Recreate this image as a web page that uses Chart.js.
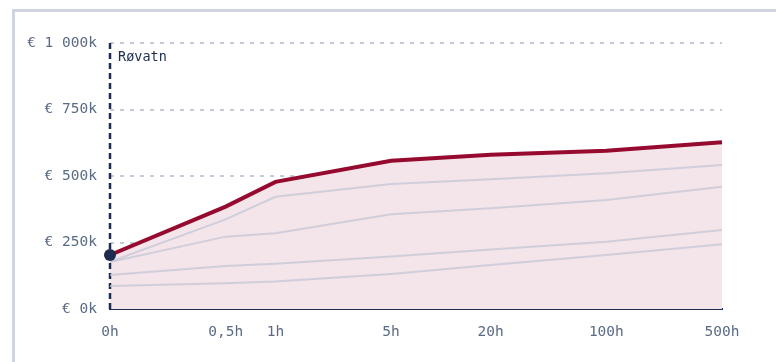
<!DOCTYPE html>
<html>
<head>
<meta charset="utf-8">
<script src="https://cdn.jsdelivr.net/npm/chart.js@4"></script>
<style>
  body { margin: 0; background: #fff; }
  #wrap { position: relative; width: 776px; height: 362px; overflow: hidden; }
  #frame { position: absolute; left: 12px; top: 9px; width: 800px; height: 400px;
           border-left: 3px solid #d0d4df; border-top: 3px solid #d0d4df; }
  canvas { position: absolute; left: 0; top: 0; }
</style>
</head>
<body>
<div id="wrap">
  <div id="frame"></div>
  <canvas id="valueChart" width="776" height="362"></canvas>
</div>
<script>
// time after the event; 0h sits at 0.1 on the log axis
const hourLabels = ['0h', '0,5h', '1h', '5h', '20h', '100h', '500h'];
const hourPositions = [0.1, 0.5, 1, 5, 20, 100, 500];

// values in thousands of euro
const rovatn = [203, 385, 478, 557, 580, 595, 627];
const refA = [177, 337, 422, 470, 488, 510, 541];
const refB = [177, 272, 285, 356, 379, 410, 460];
const refC = [128, 162, 170, 197, 224, 253, 297];
const refD = [86, 97, 103, 132, 165, 203, 243];

const yTicks = [0, 250, 500, 750, 1000];
const seriesName = 'Røvatn';

const NAVY = '#1c2b4e';
const TEXT = '#5b6b86';
const FONT = "'DejaVu Sans Mono', monospace";

function toPoints(values) {
  return values.map((v, i) => ({ x: hourPositions[i], y: v }));
}

function formatEuro(value) {
  const s = String(value).replace(/\B(?=(\d{3})+(?!\d))/g, ' ');
  return '€ ' + s + 'k';
}

function greyLine(values) {
  return {
    data: toPoints(values),
    borderColor: 'rgba(196, 198, 214, 0.75)',
    borderWidth: 2,
    pointRadius: 0,
    fill: false,
    tension: 0,
    order: 1
  };
}

// dashed marker line at 0h with the series name
const startMarker = {
  id: 'startMarker',
  beforeDatasetsDraw(chart) {
    const { ctx, chartArea } = chart;
    const x = chart.scales.x.getPixelForValue(hourPositions[0]);
    ctx.save();
    ctx.strokeStyle = NAVY;
    ctx.lineWidth = 2.5;
    ctx.setLineDash([6, 4]);
    ctx.beginPath();
    ctx.moveTo(x, chartArea.top);
    ctx.lineTo(x, chartArea.bottom);
    ctx.stroke();
    ctx.setLineDash([]);
    ctx.font = '13.5px ' + FONT;
    ctx.fillStyle = NAVY;
    ctx.textBaseline = 'middle';
    ctx.fillText(seriesName, x + 8, chartArea.top + 14);
    ctx.restore();
  }
};

const ctx = document.getElementById('valueChart').getContext('2d');
new Chart(ctx, {
  type: 'line',
  data: {
    datasets: [
      {
        data: toPoints(rovatn),
        borderColor: '#970a30',
        borderWidth: 4,
        backgroundColor: '#f3e5ea',
        fill: 'origin',
        tension: 0,
        clip: 10,
        pointRadius: c => (c.dataIndex === 0 ? 6 : 0),
        pointBackgroundColor: NAVY,
        pointBorderColor: NAVY,
        pointBorderWidth: 0,
        order: 0
      },
      greyLine(refA),
      greyLine(refB),
      greyLine(refC),
      greyLine(refD)
    ]
  },
  options: {
    responsive: false,
    animation: false,
    layout: { padding: { left: 0, top: 43, right: 54, bottom: 0 } },
    plugins: {
      legend: { display: false },
      tooltip: { enabled: false },
      filler: { drawTime: 'beforeDatasetsDraw' }
    },
    scales: {
      x: {
        type: 'logarithmic',
        min: 0.1,
        max: 500,
        afterBuildTicks: scale => {
          scale.ticks = hourPositions.map(v => ({ value: v }));
        },
        afterFit: scale => { scale.height = 53; },
        grid: { display: false, drawTicks: false },
        border: { display: true, color: NAVY, width: 2 },
        ticks: {
          autoSkip: false,
          maxRotation: 0,
          padding: 15,
          color: TEXT,
          font: { family: FONT, size: 14.5 },
          callback: value => {
            const i = hourPositions.indexOf(value);
            return i >= 0 ? hourLabels[i] : '';
          }
        }
      },
      y: {
        min: 0,
        max: 1000,
        afterBuildTicks: scale => {
          scale.ticks = yTicks.map(v => ({ value: v }));
        },
        afterFit: scale => { scale.width = 110; },
        grid: { color: '#c6c9d9', lineWidth: 2, drawTicks: false },
        border: { display: false, dash: [4, 6] },
        ticks: {
          padding: 13,
          color: TEXT,
          font: { family: FONT, size: 14.5 },
          callback: value => formatEuro(value)
        }
      }
    }
  },
  plugins: [startMarker]
});
</script>
</body>
</html>
